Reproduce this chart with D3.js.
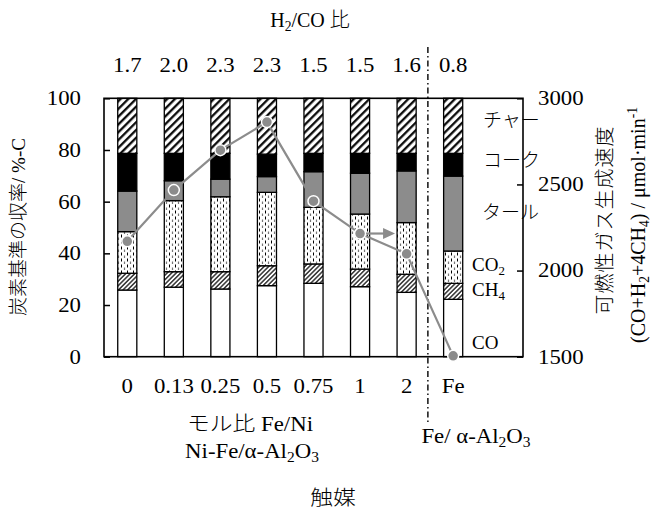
<!DOCTYPE html>
<html><head><meta charset="utf-8">
<script src="https://cdn.jsdelivr.net/npm/d3@7"></script>
<style>body{margin:0;background:#fff}</style>
</head><body><svg id="c" width="652" height="510"></svg>
<script>
const categories = ["0","0.13","0.25","0.5","0.75","1","2","Fe"];
const h2coRatio = ["1.7","2.0","2.3","2.3","1.5","1.5","1.6","0.8"];
const coYield   = [25.8, 26.9, 26.2, 27.5, 28.4, 27.1, 24.9, 22.2];
const ch4Yield  = [6.5, 6.0, 6.7, 7.7, 7.5, 6.8, 7.0, 6.2];
const co2Yield  = [16.1, 27.5, 29.0, 28.4, 21.9, 21.3, 20.0, 12.5];
const tarYield  = [15.7, 7.7, 6.8, 6.1, 13.8, 15.8, 20.0, 29.0];
const cokeYield = [14.6, 10.6, 10.0, 8.7, 7.1, 7.7, 6.8, 8.8];
const charYield = [21.3, 21.3, 21.3, 21.6, 21.3, 21.3, 21.3, 21.3];
const gasRate   = [2170, 2467, 2699, 2862, 2403, 2215, 2097, 1505];
const leftTicks = [0, 20, 40, 60, 80, 100];
const rightTicks = [1500, 2000, 2500, 3000];

const FONT = "'Liberation Serif','Noto Sans CJK JP',serif";
const FS = 20;
const STRETCH = 1.14;
const svg = d3.select("#c").style("font-family", FONT).style("font-weight", 300);
const L = 104, R = 523, T = 98.3, B = 356.7;

const step = (R - L) / 9;
const x = d3.scaleBand().domain(categories).range([L, L + step * 8])
  .paddingInner(0.59).paddingOuter(0.295);
const y = d3.scaleLinear().domain([0, 100]).range([B, T]);
const y2 = d3.scaleLinear().domain([1500, 3000]).range([B, T]);

// patterns
const defs = svg.append("defs");
const pChar = defs.append("pattern").attr("id","pChar").attr("patternUnits","userSpaceOnUse")
  .attr("width",5.5).attr("height",5.5).attr("patternTransform","rotate(45)");
pChar.append("rect").attr("width",5.5).attr("height",5.5).attr("fill","#fff");
pChar.append("line").attr("x1",1.2).attr("x2",1.2).attr("y1",0).attr("y2",5.5).attr("stroke","#000").attr("stroke-width",2.2);
const pCh4 = defs.append("pattern").attr("id","pCh4").attr("patternUnits","userSpaceOnUse")
  .attr("width",3.2).attr("height",3.2).attr("patternTransform","rotate(45)");
pCh4.append("rect").attr("width",3.2).attr("height",3.2).attr("fill","#fff");
pCh4.append("line").attr("x1",0.8).attr("x2",0.8).attr("y1",0).attr("y2",3.2).attr("stroke","#000").attr("stroke-width",1.2);
const pCo2 = defs.append("pattern").attr("id","pCo2").attr("patternUnits","userSpaceOnUse")
  .attr("width",6).attr("height",6);
pCo2.append("rect").attr("width",6).attr("height",6).attr("fill","#fff");
pCo2.append("line").attr("x1",1.5).attr("x2",1.5).attr("y1",0.5).attr("y2",3.5).attr("stroke","#000").attr("stroke-width",1);
pCo2.append("line").attr("x1",4.5).attr("x2",4.5).attr("y1",3.5).attr("y2",6.5).attr("stroke","#777").attr("stroke-width",1.2);

const series = [
  {key:"CO", vals:coYield, fill:"#fff"},
  {key:"CH4", vals:ch4Yield, fill:"url(#pCh4)"},
  {key:"CO2", vals:co2Yield, fill:"url(#pCo2)"},
  {key:"tar", vals:tarYield, fill:"#8c8c8c"},
  {key:"coke", vals:cokeYield, fill:"#000"},
  {key:"char", vals:charYield, fill:"url(#pChar)"}
];
const table = categories.map((c,i)=>{const o={cat:c}; series.forEach(s=>o[s.key]=s.vals[i]); return o;});
const stacked = d3.stack().keys(series.map(s=>s.key))(table);

const gBars = svg.append("g");
stacked.forEach((layer, li)=>{
  gBars.append("g").selectAll("rect").data(layer).join("rect")
    .attr("x", d=>x(d.data.cat)).attr("width", x.bandwidth())
    .attr("y", d=>y(d[1])).attr("height", d=>y(d[0])-y(d[1]))
    .attr("fill", series[li].fill).attr("stroke","#000").attr("stroke-width",1.3);
});

// frame
svg.append("rect").attr("x",L).attr("y",T).attr("width",R-L).attr("height",B-T)
  .attr("fill","none").attr("stroke","#000").attr("stroke-width",1.6);

// axes
const ax = svg.append("g").attr("transform",`translate(${L},0)`)
  .call(d3.axisLeft(y).tickValues(leftTicks).tickSize(-6).tickSizeOuter(0).tickPadding(23));
const ax2 = svg.append("g").attr("transform",`translate(${R},0)`)
  .call(d3.axisRight(y2).tickValues(rightTicks).tickFormat(d3.format("d")).tickSize(-6).tickSizeOuter(0).tickPadding(15));
const axb = svg.append("g").attr("transform",`translate(0,${B})`)
  .call(d3.axisBottom(x).tickSize(0).tickPadding(22));
const axt = svg.append("g").attr("transform",`translate(0,${T})`)
  .call(d3.axisTop(x).tickSize(0).tickPadding(26).tickFormat((d,i)=>h2coRatio[i]));
[ax,ax2,axb,axt].forEach(g=>{
  g.select(".domain").remove();
  g.selectAll("text").attr("font-family",FONT).attr("font-size",FS).attr("fill","#000").classed("stretch",true);
  g.selectAll("line").attr("stroke","#000").attr("stroke-width",1.5);
});

// dash-dot separator
const sepX = (x("2") + x.bandwidth() + x("Fe")) / 2 - 2;
svg.append("line").attr("x1",sepX).attr("x2",sepX).attr("y1",47).attr("y2",423)
  .attr("stroke","#000").attr("stroke-width",1.4).attr("stroke-dasharray","6,3,1.5,3");

// gas rate line
const cx = d=>x(d)+x.bandwidth()/2;
const line = d3.line().x((d,i)=>cx(categories[i])).y(d=>y2(d));
svg.append("path").datum(gasRate).attr("d",line).attr("fill","none")
  .attr("stroke","#8c8c8c").attr("stroke-width",2.2);
svg.append("g").selectAll("circle").data(gasRate).join("circle")
  .attr("cx",(d,i)=>cx(categories[i])).attr("cy",d=>y2(d)).attr("r",5.5)
  .attr("fill","#8c8c8c").attr("stroke","#fff").attr("stroke-width",1.5);

// arrow to right axis from point "1"
const ai = 5, ax0 = cx(categories[ai]), ay0 = y2(gasRate[ai]);
svg.append("line").attr("x1",ax0+6).attr("x2",ax0+24).attr("y1",ay0).attr("y2",ay0)
  .attr("stroke","#8c8c8c").attr("stroke-width",2.2);
svg.append("path").attr("d",`M${ax0+23},${ay0-5.5}L${ax0+35},${ay0}L${ax0+23},${ay0+5.5}Z`)
  .attr("fill","#8c8c8c");

// rich text helper
function rich(g, parts, fs){
  parts.forEach(p=>{
    const t = g.append("tspan").text(p[0]);
    if (p[1]==="sub") t.attr("font-size",fs*0.68).attr("dy",fs*0.2);
    if (p[1]==="sup") t.attr("font-size",fs*0.68).attr("dy",-fs*0.42);
    if (p[2]) t.attr("dy",p[2]);
  });
}
function label(xp, yp, parts, opts={}){
  const f = opts.fs||FS;
  const t = svg.append("text").attr("x",xp).attr("y",yp).attr("font-size",f)
    .attr("text-anchor",opts.anchor||"start").attr("fill","#000");
  if (opts.rot) t.attr("transform",`rotate(${opts.rot},${xp},${yp})`);
  if (opts.ls) t.attr("letter-spacing",opts.ls);
  if (opts.stretch) t.classed("stretch",true);
  rich(t, parts, f);
  return t;
}
const fs = FS;
label(310, 27, [["H"],["2","sub"],["/CO 比",null,-fs*0.2]], {anchor:"middle"});

// legend-like labels
label(483, 127, [["チャー"]], {fs:19});
label(483, 167, [["コーク"]], {fs:19});
label(482, 219, [["タール"]], {fs:19});
label(472, 271, [["CO"],["2","sub"]], {fs:19});
label(472, 296, [["CH"],["4","sub"]], {fs:19});
label(472, 349, [["CO"]], {fs:19});

// bottom labels
label(250, 431, [["モル比 Fe/Ni"]], {anchor:"middle", stretch:true});
label(252, 458, [["Ni-Fe/α-Al"],["2","sub"],["O",null,-fs*0.2],["3","sub"]], {anchor:"middle", stretch:true});
label(476, 443, [["Fe/ α-Al"],["2","sub"],["O",null,-fs*0.2],["3","sub"]], {anchor:"middle", stretch:true});
label(333, 505, [["触媒"]], {anchor:"middle", stretch:true});

// axis titles
label(25, 227, [["炭素基準の収率/ %-C"]], {anchor:"middle", rot:-90, fs:19});
label(612, 220, [["可燃性ガス生成速度"]], {anchor:"middle", rot:-90, fs:20, ls:1});
label(645, 225, [["(CO+H"],["2","sub"],["+4CH",null,-fs*0.2],["4","sub"],[") / μmol·min",null,-fs*0.2],["-1","sup"]], {anchor:"middle", rot:-90, fs:20});

// horizontal stretch to match the reference's wide glyphs
svg.selectAll("text.stretch").each(function(){
  const w = this.getComputedTextLength();
  this.setAttribute("textLength", (w*STRETCH).toFixed(2));
  this.setAttribute("lengthAdjust","spacingAndGlyphs");
});
</script></body></html>
